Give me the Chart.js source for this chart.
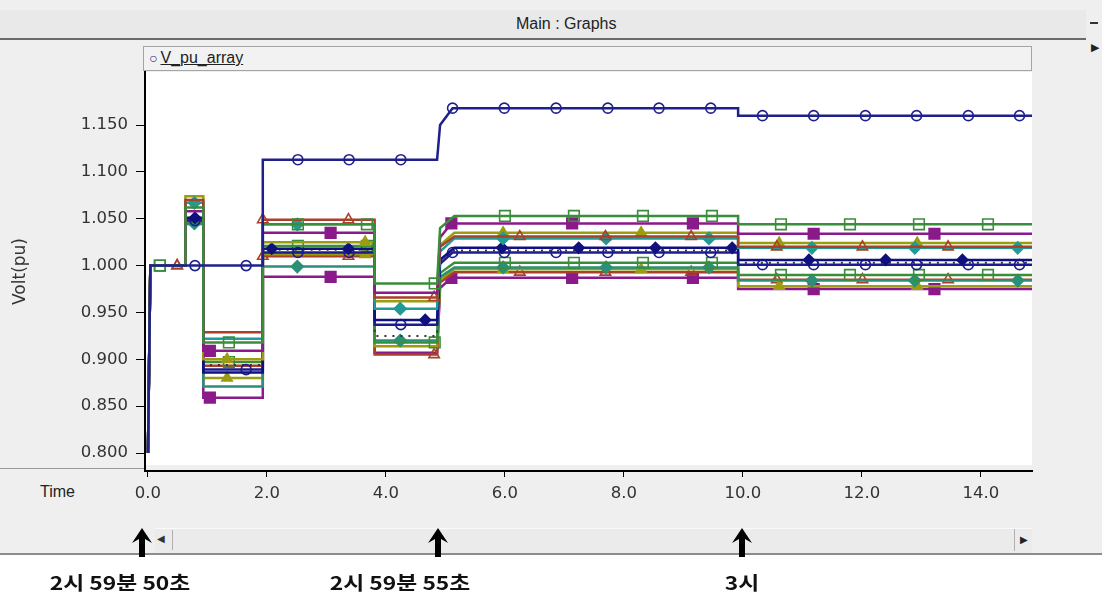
<!DOCTYPE html>
<html>
<head>
<meta charset="utf-8">
<script src="https://cdn.jsdelivr.net/npm/chart.js@4.4.1/dist/chart.umd.min.js"></script>
<style>
  html, body { margin: 0; padding: 0; }
  body {
    width: 1102px; height: 605px; position: relative; overflow: hidden;
    background: #efefef; font-family: "Liberation Sans", Arial, sans-serif; color: #222;
  }
  .abs { position: absolute; }
  #titleBar { left: 0; top: 10px; width: 1086px; height: 28px; background: #e9e9e9; border-bottom: 2px solid #6a6a6a; }
  #titleText { left: 516px; top: 15px; font-size: 16px; }
  #minBtn { left: 1090px; top: 22px; width: 8px; height: 2px; background: #333; }
  #sideArrow { left: 1091px; top: 41px; font-size: 11px; }
  #legendBox { left: 143px; top: 46px; width: 887px; height: 23px; background: #f2f2f2; border: 1px solid #a4a4a4; }
  #legendText { left: 149px; top: 49px; font-size: 16px; }
  #legendText .mk { color: #20208c; font-size: 14px; margin-right: 3px; }
  #legendText .nm { text-decoration: underline; }
  #panelLine { left: 0; top: 468px; width: 145px; height: 1px; background: #9a9a9a; }
  #timeLabel { left: 40px; top: 483px; font-size: 16px; }
  #scrollBar { left: 155px; top: 528px; width: 877px; height: 24px; background: #ebebeb; border-top: 1px solid #fafafa; }
  #scrollLeft { left: 157px; top: 533px; font-size: 10px; color: #333; }
  #scrollSep { left: 172px; top: 530px; width: 1px; height: 20px; background: #b0b0b0; }
  #scrollRight { left: 1014px; top: 529px; width: 17px; height: 22px; border-left: 1px solid #b0b0b0; font-size: 10px; text-align: center; line-height: 22px; }
  #bottomLine { left: 0; top: 553px; width: 1102px; height: 2px; background: #8c8c8c; }
  #bottomPane { left: 0; top: 555px; width: 1102px; height: 50px; background: #fff; }
  .stamp {
    position: absolute; top: 568px; font-family: "Noto Sans CJK KR", sans-serif;
    font-weight: bold; font-size: 19px; color: #111; white-space: nowrap;
    transform: translateX(-50%) scaleX(1.2);
  }
  #chartBox { position: absolute; left: 0; top: 0; width: 1102px; height: 605px; }
</style>
</head>
<body>
<div class="abs" id="titleBar"></div>
<div class="abs" id="titleText">Main : Graphs</div>
<div class="abs" id="minBtn"></div>
<div class="abs" id="sideArrow">&#9654;</div>
<div class="abs" id="legendBox"></div>
<div class="abs" id="legendText"><span class="mk">&#9675;</span><span class="nm">V_pu_array</span></div>
<div class="abs" id="panelLine"></div>
<div class="abs" id="timeLabel">Time</div>
<div class="abs" id="scrollBar"></div>
<div class="abs" id="scrollLeft">&#9664;</div>
<div class="abs" id="scrollSep"></div>
<div class="abs" id="scrollRight">&#9654;</div>
<div class="abs" id="bottomLine"></div>
<div class="abs" id="bottomPane"></div>
<div id="chartBox"><canvas id="graph" width="1102" height="605"></canvas></div>
<script>
// axis ticks
const xTicks = [0, 2, 4, 6, 8, 10, 12, 14];
const yTicks = [0.80, 0.85, 0.90, 0.95, 1.00, 1.05, 1.10, 1.15];

// switching instants of the simulated sequence (s)
const tSettle0 = 0.04;
const tSurge = 0.63;
const tSag = 0.93;
const tStage2 = 1.93;
const tDip = 3.81;
const tRise = 4.86;
const tKnee = 4.91;
const tSettle = 5.15;
const tFinal = 9.92;
const tEnd = 14.86;
const startLevel = 0.80;

// bus voltages per stage: [pre, surge, sag, stage2, dip, knee, stage3, final]
const mainLevels     = [1.000, 1.000, 1.000, 1.113, 1.113, 1.150, 1.168, 1.160];
const greenHiLevels  = [1.000, 1.062, 0.918, 1.044, 0.981, 1.040, 1.053, 1.044];
const purpleHiLevels = [1.000, 1.058, 0.909, 1.035, 0.971, 1.030, 1.045, 1.034];
const redHiLevels    = [1.000, 1.070, 0.929, 1.049, 0.966, 1.020, 1.031, 1.020];
const tealHiLevels   = [1.000, 1.067, 0.922, 1.044, 0.954, 1.015, 1.029, 1.019];
const oliveHiLevels  = [1.000, 1.074, 0.900, 1.025, 0.962, 1.022, 1.035, 1.024];
const navyDiaLevels  = [1.000, 1.051, 0.886, 1.018, 0.942, 1.006, 1.019, 1.006];
const navyCircLevels = [1.000, 1.048, 0.889, 1.014, 0.937, 1.002, 1.014, 1.001];
const dashLevels     = [1.000, 1.050, 0.894, 1.017, 0.925, 1.005, 1.016, 1.003];
const greenLoLevels  = [1.000, 1.046, 0.897, 1.021, 0.918, 0.992, 1.003, 0.990];
const tealLoLevels   = [1.000, 1.045, 0.871, 0.999, 0.920, 0.988, 0.998, 0.984];
const oliveLoLevels  = [1.000, 1.044, 0.880, 1.012, 0.914, 0.985, 0.996, 0.978];
const redLoLevels    = [1.000, 1.050, 0.893, 1.010, 0.905, 0.982, 0.993, 0.985];
const purpleLoLevels = [1.000, 1.045, 0.859, 0.988, 0.907, 0.976, 0.987, 0.975];

// symbol positions along each trace (s)
const circleTimes = [0.79, 1.65, 2.52, 3.38, 4.25, 5.12, 5.99, 6.86, 7.73, 8.59, 9.46, 10.33, 11.19, 12.06, 12.92, 13.79, 14.65];
const greenTimes = [0.20, 1.36, 2.52, 3.68, 4.82, 6.00, 7.16, 8.32, 9.48, 10.64, 11.80, 12.96, 14.12];
const purpleTimes = [1.04, 3.07, 5.10, 7.13, 9.16, 11.19, 13.22];
const oliveTimes = [1.33, 3.65, 5.97, 8.29, 10.61, 12.93];
const tealTimes = [0.78, 2.51, 4.24, 5.97, 7.70, 9.43, 11.16, 12.89, 14.62];
const redTimes = [0.49, 1.93, 3.37, 4.81, 6.25, 7.69, 9.13, 10.57, 12.01, 13.45];
const navyDiaTimes = [0.79, 2.08, 3.37, 4.66, 5.95, 7.24, 8.53, 9.82, 11.11, 12.40, 13.69];

// time stamps pointed at under the axis
const stampTimes = [-0.1, 4.87, 9.98];
const stampLabels = ['2시 59분 50초', '2시 59분 55초', '3시'];
const stampShift = [-22, -38, 0];

function levelAt(lv, t) {
  if (t < tSurge) return lv[0];
  if (t < tSag) return lv[1];
  if (t < tStage2) return lv[2];
  if (t < tDip) return lv[3];
  if (t < tRise) return lv[4];
  if (t < tFinal) return lv[6];
  return lv[7];
}

function buildTrace(lv, marks) {
  const pts = [
    { x: 0, y: startLevel },
    { x: tSettle0, y: lv[0] },
    { x: tSurge, y: lv[0] }, { x: tSurge, y: lv[1] },
    { x: tSag, y: lv[1] }, { x: tSag, y: lv[2] },
    { x: tStage2, y: lv[2] }, { x: tStage2, y: lv[3] },
    { x: tDip, y: lv[3] }, { x: tDip, y: lv[4] },
    { x: tRise, y: lv[4] }, { x: tKnee, y: lv[5] },
    { x: tSettle, y: lv[6] },
    { x: tFinal, y: lv[6] }, { x: tFinal, y: lv[7] },
    { x: tEnd, y: lv[7] }
  ];
  (marks || []).forEach(t => pts.push({ x: t, y: levelAt(lv, t), mark: true }));
  return pts.sort((a, b) => a.x - b.x);
}

const traces = [
  { lv: mainLevels, marks: circleTimes, color: '#20208c', shape: 'circle', open: true, r: 5 },
  { lv: greenHiLevels, marks: greenTimes, color: '#3a8d3a', shape: 'rect', open: true, r: 7.5 },
  { lv: purpleHiLevels, marks: purpleTimes, color: '#8a1a8a', shape: 'rect', open: false, r: 7.5 },
  { lv: redHiLevels, marks: redTimes, color: '#a8402a', shape: 'triangle', open: true, r: 6 },
  { lv: tealHiLevels, marks: tealTimes, color: '#229a96', shape: 'rectRot', open: false, r: 6 },
  { lv: oliveHiLevels, marks: oliveTimes, color: '#9c9c10', shape: 'triangle', open: false, r: 6 },
  { lv: navyDiaLevels, marks: navyDiaTimes, color: '#10107e', shape: 'rectRot', open: false, r: 5.5 },
  { lv: navyCircLevels, marks: circleTimes, color: '#1c1c90', shape: 'circle', open: true, r: 5 },
  { lv: dashLevels, marks: null, color: '#333333', dash: [2, 6] },
  { lv: greenLoLevels, marks: greenTimes, color: '#3a8d3a', shape: 'rect', open: true, r: 7.5 },
  { lv: tealLoLevels, marks: tealTimes, color: '#2a9078', shape: 'rectRot', open: false, r: 6 },
  { lv: oliveLoLevels, marks: oliveTimes, color: '#9c9c10', shape: 'triangle', open: false, r: 6 },
  { lv: redLoLevels, marks: redTimes, color: '#a8402a', shape: 'triangle', open: true, r: 6 },
  { lv: purpleLoLevels, marks: purpleTimes, color: '#8a1a8a', shape: 'rect', open: false, r: 7.5 }
];

const datasets = traces.map(tr => ({
  data: buildTrace(tr.lv, tr.marks),
  borderColor: tr.color,
  borderWidth: tr.dash ? 2 : 2.5,
  borderDash: tr.dash || [],
  pointStyle: tr.shape || 'circle',
  pointRadius: c => (c.raw && c.raw.mark ? tr.r : 0),
  pointBorderWidth: 1.6,
  pointBorderColor: tr.color,
  pointBackgroundColor: tr.open ? 'rgba(255,255,255,0)' : tr.color,
  pointHoverRadius: 0,
  tension: 0
}));

// white plot field, ending a few pixels above the time axis
const plotField = {
  id: 'plotField',
  beforeDraw(chart) {
    const { ctx, chartArea: a } = chart;
    ctx.save();
    ctx.fillStyle = '#ffffff';
    ctx.fillRect(a.left, a.top, a.right - a.left, a.bottom - a.top - 6);
    ctx.restore();
  }
};

// up arrows under the time axis
const stampArrows = {
  id: 'stampArrows',
  afterDraw(chart) {
    const { ctx } = chart;
    const xs = chart.scales.x;
    ctx.save();
    ctx.fillStyle = '#000';
    stampTimes.forEach(t => {
      const px = Math.round(xs.getPixelForValue(t));
      ctx.beginPath();
      ctx.moveTo(px, 528);
      ctx.lineTo(px + 10, 543);
      ctx.lineTo(px + 3, 539);
      ctx.lineTo(px + 3, 557);
      ctx.lineTo(px - 3, 557);
      ctx.lineTo(px - 3, 539);
      ctx.lineTo(px - 10, 543);
      ctx.closePath();
      ctx.fill();
    });
    ctx.restore();
  }
};

const tickFont = { family: '"DejaVu Sans", sans-serif', size: 16.5 };

const chart = new Chart(document.getElementById('graph'), {
  type: 'line',
  data: { datasets },
  options: {
    responsive: false,
    animation: false,
    events: [],
    layout: { padding: { left: 0, top: 72, right: 70, bottom: 94 } },
    plugins: { legend: { display: false }, tooltip: { enabled: false } },
    scales: {
      x: {
        type: 'linear',
        min: -0.05,
        max: 14.86,
        afterBuildTicks: s => { s.ticks = xTicks.map(v => ({ value: v })); },
        afterFit: s => { s.height = 40; },
        grid: { drawOnChartArea: false, tickLength: 6, color: '#000' },
        border: { color: '#000', width: 2 },
        ticks: { callback: v => v.toFixed(1), color: '#333', font: tickFont, padding: 7, maxRotation: 0 }
      },
      y: {
        min: 0.7808,
        max: 1.2066,
        afterBuildTicks: s => { s.ticks = yTicks.map(v => ({ value: v })); },
        afterFit: s => { s.width = 145; },
        grid: { drawOnChartArea: false, tickLength: 9, color: '#000' },
        border: { color: '#000', width: 2 },
        ticks: { callback: v => v.toFixed(3), color: '#333', font: tickFont, padding: 8 },
        title: { display: true, text: 'Volt(pu)', color: '#333', font: { family: '"DejaVu Sans", sans-serif', size: 17 }, padding: { top: 10, bottom: 0 } }
      }
    }
  },
  plugins: [plotField, stampArrows]
});

// time stamp captions placed from the x scale
stampTimes.forEach((t, i) => {
  const d = document.createElement('div');
  d.className = 'stamp';
  d.textContent = stampLabels[i];
  d.style.left = (chart.scales.x.getPixelForValue(t) + stampShift[i]) + 'px';
  document.body.appendChild(d);
});
</script>
</body>
</html>
